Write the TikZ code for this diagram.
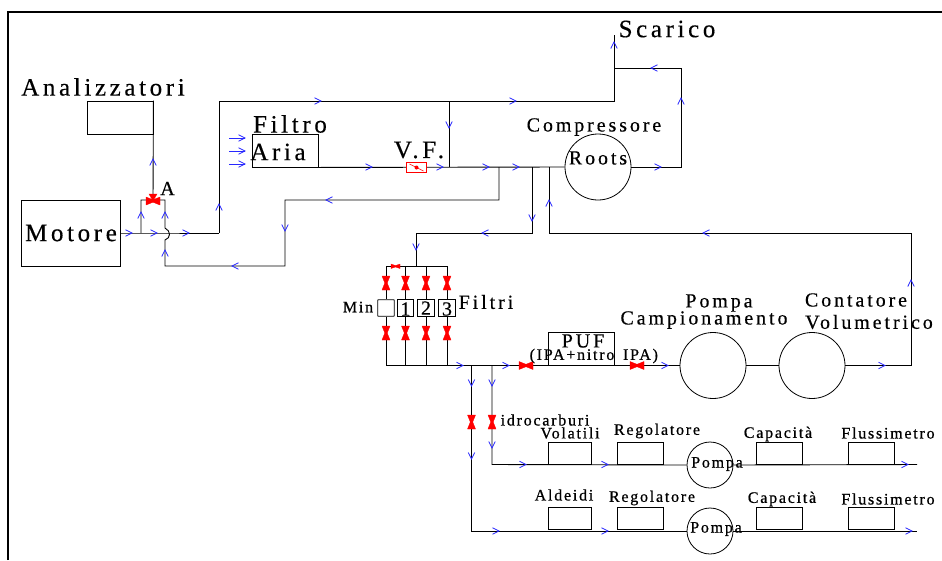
\documentclass[tikz,border=0pt]{standalone}
\usepackage{fontspec}
\setmainfont{Liberation Serif}
\newfontfamily\lbl[LetterSpace=14.5,FakeBold=0.4]{Liberation Serif}
\newfontfamily\lbs[LetterSpace=11,FakeBold=0.7]{Liberation Serif}
\definecolor{flowblue}{RGB}{40,40,255}
\definecolor{valvered}{RGB}{255,0,0}
\tikzset{
  x=1pt,y=-1pt,
  pipe/.style={draw=black,line width=0.9pt},
  comp/.style={draw=black,line width=0.9pt,inner sep=0pt,minimum width=#1},
  circ/.style={circle,draw=black,line width=0.8pt,inner sep=0pt,minimum size=#1},
  big/.style={font=\lbl\fontsize{25}{27}\selectfont,inner sep=0pt,anchor=center},
  mid/.style={font=\lbl\fontsize{20}{22}\selectfont,inner sep=0pt,anchor=center},
  tiny/.style={font=\lbs\fontsize{16}{18}\selectfont,inner sep=0pt,anchor=center},
  flow/.style={draw=flowblue,line width=0.8pt},
  valve/.style={fill=valvered,draw=valvered,line width=0.3pt}
}
% flow marker: tip position, angle
\newcommand{\flowmark}[3]{\begin{scope}[shift={(#1,#2)},rotate=#3]
  \draw[flow] (-6.5,-3.2)--(0,0)--(-6.5,3.2);
\end{scope}}
% valve symbol: centre, angle (0 = flow along x)
\newcommand{\valvemark}[3]{\begin{scope}[shift={(#1,#2)},rotate=#3]
  \path[valve] (-7,-4)--(0,-1.2)--(7,-4)--(7,4)--(0,1.2)--(-7,4)--cycle;
\end{scope}}
\begin{document}
\begin{tikzpicture}
\useasboundingbox (0,0) rectangle (942,560);
\fill[white] (0,0) rectangle (942,560);
% frame
\draw[line width=2pt] (8,560)--(8,11.5)--(942,11.5);

% components
\node[comp=99pt,minimum height=66pt] (motore) at (70.5,233) {};
\node[comp=66pt,minimum height=33pt] (an) at (120,117.5) {};
\node[comp=66pt,minimum height=33pt] (aria) at (285,150.5) {};
\node[circ=66pt] (roots) at (598,167) {};
\node[circ=66pt] (pompac) at (713,365.5) {};
\node[circ=66pt] (cont) at (812,365.5) {};
\node[comp=66pt,minimum height=33pt] (puf) at (581,349) {};
\node[comp=16.5pt,minimum height=16.5pt,rounded corners=0.5pt] (fmin) at (386,308) {};
\node[comp=16.5pt,minimum height=16.5pt] (f1) at (405.5,308) {};
\node[comp=16.5pt,minimum height=16.5pt] (f2) at (426,308) {};
\node[comp=16.5pt,minimum height=16.5pt] (f3) at (447,308) {};
\node[comp=43pt,minimum height=22pt] (vol) at (569.5,453) {};
\node[comp=46pt,minimum height=22pt] (reg1) at (640.5,453) {};
\node[circ=46pt,fill=white] (p1) at (710,465) {};
\node[comp=46pt,minimum height=22pt] (cap1) at (779,453) {};
\node[comp=46pt,minimum height=22pt] (flu1) at (871.5,453) {};
\node[comp=43pt,minimum height=22pt] (ald) at (569.5,518.5) {};
\node[comp=46pt,minimum height=22pt] (reg2) at (640.5,518.5) {};
\node[circ=46pt,fill=white] (p2) at (710,531) {};
\node[comp=46pt,minimum height=22pt] (cap2) at (779,518.5) {};
\node[comp=46pt,minimum height=22pt] (flu2) at (871.5,518.5) {};

% junction coordinates
\coordinate (j1) at (141,233);
\coordinate (va) at (153,200);
\coordinate (j2) at (219,233);
\coordinate (jt) at (219,101);
\coordinate (j3) at (449,101);
\coordinate (j4) at (449,167);
\coordinate (s1) at (614,101);
\coordinate (s2) at (614,68);
\coordinate (sc) at (614,35);
\coordinate (j5) at (499,167);
\coordinate (j6) at (532,167);
\coordinate (j7) at (549,167);
\coordinate (e1) at (917,464.5);
\coordinate (e2) at (917,531);
\coordinate (bot) at (386,365.5);
\coordinate (j8) at (471.5,365.5);
\coordinate (j9) at (492,365.5);

% connectors
\draw[pipe] (motore.east)--(j1)--(j2);
\draw[pipe] (j1)--(141,200)--(165,200)--(165,228)
  .. controls (171,231) and (171,238) .. (165,240)--(165,266)--(285,266)--(285,200)--(499,200)--(j5);
\draw[pipe] (j2)--(jt)--(s1)--(sc);
\draw[pipe] (an.north east)--(va);
\draw[pipe] (j3)--(j4);
\draw[pipe] (aria.south east)--(roots.west);
\draw[pipe] (roots.east)--(681,167)--(681,68)--(s2);
\draw[pipe] (j6)--(532,233)--(416,233)--(416,266);
\draw[pipe] (j7)--(549,233)--(911,233)--(911,365.5)--(cont.east);
\draw[pipe] (386,266)--(447,266);
\draw[pipe] (386,266)--(fmin.north); \draw[pipe] (fmin.south)--(bot);
\draw[pipe] (405.5,266)--(f1.north); \draw[pipe] (f1.south)--(405.5,365.5);
\draw[pipe] (426,266)--(f2.north); \draw[pipe] (f2.south)--(426,365.5);
\draw[pipe] (447,266)--(f3.north); \draw[pipe] (f3.south)--(447,365.5);
\draw[pipe] (bot)--(pompac.west);
\draw[pipe] (pompac.east)--(cont.west);
\draw[pipe] (j9)--(492,464.5)--(p1.west);
\draw[pipe] (p1.east)--(e1);
\draw[pipe] (j8)--(471.5,531)--(p2.west);
\draw[pipe] (p2.east)--(e2);

% flow markers
\foreach \x/\y in {132/233,157/233,189/233,321/101,516/101,443/167,489/167,519/167,661/167,
  463/365.5,509/365.5,668/365.5,885/365.5,526/464.5,608/464.5,908/464.5,499/531,608/531,912/531,372/167}
  {\flowmark{\x}{\y}{0}}
\foreach \x/\y in {153/159,141/212,165/212,165/250,219/204,614/42,681/98,549/200,911/280}
  {\flowmark{\x}{\y}{90}}
\foreach \x/\y in {449/128,285/231,532/221,416/250,471.5/386,492/386,492/448,471.5/459}
  {\flowmark{\x}{\y}{-90}}
\foreach \x/\y in {326/200,232/266,651/68,482/233,703/233}
  {\flowmark{\x}{\y}{180}}
\flowmark{245}{138}{0}\flowmark{245}{151}{0}\flowmark{245}{164}{0}
\draw[flow] (229,138)--(245,138) (229,151)--(245,151) (229,164)--(245,164);

% valves
\valvemark{153}{201}{0}
\path[valve] (149,194)--(157,194)--(153,201)--cycle;
\path[valve] (391,264)--(395.5,265.5)--(400,264)--(400,268.5)--(395.5,267)--(391,268.5)--cycle;
\foreach \x in {386,405.5,426,447}{\valvemark{\x}{283}{90}\valvemark{\x}{333}{90}}
\valvemark{526}{365.5}{0}
\valvemark{637}{365.5}{0}
\valvemark{471.5}{422}{90}
\valvemark{492}{422}{90}
\node[draw=valvered,fill=white,line width=0.9pt,minimum width=20pt,minimum height=10pt,inner sep=0pt] (vf) at (416.5,167.5) {};
\draw[valvered,line width=0.6pt] (vf.center)+(-7,-3.5)--+(7,3.5);
\fill[valvered] (vf.center) circle (2pt);

% labels
\node[big] (tan) at (103,87) {Analizzatori};
\node[big] (tsc) at (667,29) {Scarico};
\node[big] (tfi) at (290,124) {Filtro};
\node[big] (tar) at (278,152) {Aria};
\node[big] (tmo) at (71,233) {Motore};
\node[mid] (ta) at (167.5,188.5) {A};
\node[big] (tvf) at (419,150) {V.F.};
\node[mid] (tco) at (594,127) {Compressore};
\node[mid] (tro) at (598,158) {Roots};
\node[mid] (tfl) at (486,302) {Filtri};
\node[tiny] (tmi) at (358,307) {Min};
\node[mid] (t1) at (405.5,309) {1};
\node[mid] (t2) at (426,308) {2};
\node[mid] (t3) at (447,309) {3};
\node[mid] (tpu) at (583,341) {PUF};
\node[tiny] (tip) at (572,356) {(IPA+nitro};
\node[tiny] (tiq) at (640.5,356) {IPA)};
\node[mid] (tpo) at (719,303) {Pompa};
\node[mid] (tca) at (704,320) {Campionamento};
\node[mid] (tct) at (856,300) {Contatore};
\node[mid] (tvo) at (869,322) {Volumetrico};
\node[tiny] (tid) at (545,420) {idrocarburi};
\node[tiny] (tvl) at (570,433) {Volatili};
\node[tiny] (tr1) at (657,431) {Regolatore};
\node[tiny] (tc1) at (778,434) {Capacità};
\node[tiny] (tf1) at (888,433) {Flussimetro};
\node[tiny] (tpa) at (717,464) {Pompa};
\node[tiny] (tal) at (564,495) {Aldeidi};
\node[tiny] (tr2) at (652,498) {Regolatore};
\node[tiny] (tc2) at (782,499) {Capacità};
\node[tiny] (tf2) at (888,499) {Flussimetro};
\node[tiny] (tpb) at (716,529) {Pompa};
\end{tikzpicture}
\end{document}
